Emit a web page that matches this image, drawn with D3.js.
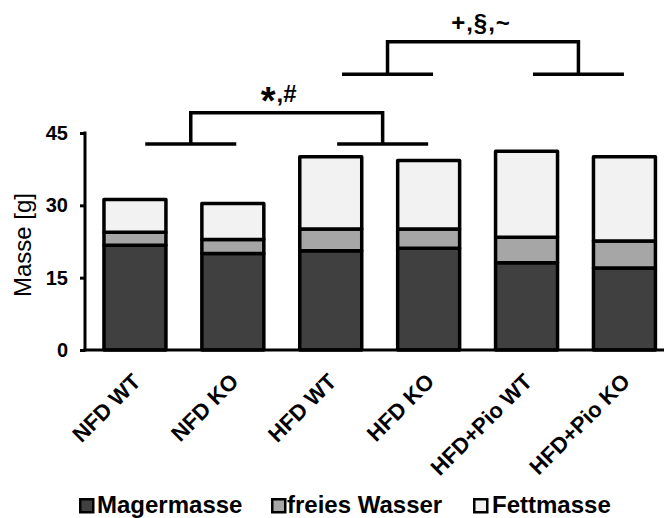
<!DOCTYPE html>
<html>
<head>
<meta charset="utf-8">
<script src="https://cdn.jsdelivr.net/npm/d3@7"></script>
<style>
  html, body { margin: 0; padding: 0; background: #fff; }
  svg { display: block; font-family: "Liberation Sans", Arial, sans-serif; }
</style>
</head>
<body>
<svg id="chart" width="664" height="518"></svg>
<script>
// Body composition per group (g)
const groups = ["NFD WT", "NFD KO", "HFD WT", "HFD KO", "HFD+Pio WT", "HFD+Pio KO"];
const magermasse = [21.7, 20.0, 20.6, 21.1, 18.1, 17.0];
const freiesWasser = [2.7, 2.9, 4.5, 4.0, 5.3, 5.6];
const fettmasse = [6.8, 7.5, 15.0, 14.2, 17.8, 17.5];
const seriesNames = ["Magermasse", "freies Wasser", "Fettmasse"];
const seriesColors = ["#404040", "#a6a6a6", "#f2f2f2"];
const yTicks = [0, 15, 30, 45];
const yLabel = "Masse [g]";

// Significance brackets: short bars centred at fractional category positions
const brackets = [
  { left: 0.57, right: 2.53, low: 42.7, high: 49.2, label: ["*", ",#"] },
  { left: 2.58, right: 4.53, low: 57.2, high: 63.9, label: ["+,§,~"] }
];

const svg = d3.select("#chart");

const x = d3.scaleBand()
  .domain(groups)
  .range([86, 86 + 6 * 97.9])
  .paddingInner(0.367)
  .paddingOuter(0.1835);

const y = d3.scaleLinear().domain([0, 45]).range([350, 133]);

const rows = groups.map((g, i) => ({
  group: g,
  Magermasse: magermasse[i],
  "freies Wasser": freiesWasser[i],
  Fettmasse: fettmasse[i]
}));
const stacked = d3.stack().keys(seriesNames)(rows);

// Bars
svg.append("g")
  .selectAll("g")
  .data(stacked)
  .join("g")
  .attr("fill", (d, i) => seriesColors[i])
  .selectAll("rect")
  .data(d => d)
  .join("rect")
  .attr("x", d => x(d.data.group))
  .attr("width", x.bandwidth())
  .attr("y", d => y(d[1]))
  .attr("height", d => y(d[0]) - y(d[1]))
  .attr("stroke", "#000")
  .attr("stroke-width", 3.5)
  .attr("stroke-linejoin", "round");

// Y axis
const yAxis = svg.append("g")
  .attr("transform", "translate(85,0)")
  .call(d3.axisLeft(y).tickValues(yTicks).tickSize(5).tickPadding(12));
yAxis.select(".domain").remove();
yAxis.selectAll(".tick line").attr("stroke", "#000").attr("stroke-width", 3);
yAxis.selectAll(".tick text")
  .attr("font-size", 20)
  .attr("font-weight", "bold")
  .attr("fill", "#000")
  .attr("font-family", "Liberation Sans, Arial, sans-serif");

svg.append("line")
  .attr("x1", 85).attr("x2", 85)
  .attr("y1", y(45) - 1.5).attr("y2", y(0) + 1.5)
  .attr("stroke", "#000").attr("stroke-width", 3);

// X axis line
svg.append("line")
  .attr("x1", 83.5).attr("x2", 664)
  .attr("y1", y(0)).attr("y2", y(0))
  .attr("stroke", "#000").attr("stroke-width", 3);

// Category labels
svg.append("g")
  .selectAll("text")
  .data(groups)
  .join("text")
  .attr("transform", d => `translate(${x(d) + x.bandwidth() / 2 + 7},${y(0) + 33}) rotate(-45)`)
  .attr("text-anchor", "end")
  .attr("font-size", 22)
  .attr("font-weight", "bold")
  .attr("fill", "#000")
  .text(d => d);

// Y axis title
svg.append("text")
  .attr("transform", "translate(31,245) rotate(-90)")
  .attr("text-anchor", "middle")
  .attr("font-size", 24)
  .attr("fill", "#000")
  .text(yLabel);

// Significance brackets
const step = x.step();
const c0 = x(groups[0]) + x.bandwidth() / 2;
const halfBar = 45.5;
brackets.forEach(b => {
  const xl = c0 + b.left * step;
  const xr = c0 + b.right * step;
  const g = svg.append("g")
    .attr("stroke", "#000").attr("stroke-width", 3.5).attr("fill", "none");
  g.append("line").attr("x1", xl - halfBar).attr("x2", xl + halfBar)
    .attr("y1", y(b.low)).attr("y2", y(b.low));
  g.append("line").attr("x1", xr - halfBar).attr("x2", xr + halfBar)
    .attr("y1", y(b.low)).attr("y2", y(b.low));
  g.append("path")
    .attr("stroke-linejoin", "miter")
    .attr("d", `M${xl},${y(b.low)}V${y(b.high)}H${xr}V${y(b.low)}`);
  const t = svg.append("text")
    .attr("x", (xl + xr) / 2 + (b.label.length > 1 ? -8 : -2))
    .attr("y", y(b.high) - 11)
    .attr("text-anchor", "middle")
    .attr("font-size", 24)
    .attr("font-weight", "bold")
    .attr("fill", "#000");
  if (b.label.length > 1) {
    t.append("tspan").attr("font-size", 38).attr("dy", 12).text(b.label[0]);
    t.append("tspan").attr("dy", -12).attr("dx", 1).text(b.label[1]);
  } else {
    t.attr("letter-spacing", 1).text(b.label[0]);
  }
});

// Legend
const legendX = [79, 271, 473];
const legend = svg.append("g")
  .selectAll("g")
  .data(seriesNames)
  .join("g")
  .attr("transform", (d, i) => `translate(${legendX[i]},498)`);
legend.append("rect")
  .attr("x", 1.25).attr("y", 1.25)
  .attr("width", 13).attr("height", 13)
  .attr("fill", (d, i) => seriesColors[i])
  .attr("stroke", "#000").attr("stroke-width", 2.5);
legend.append("text")
  .attr("x", (d, i) => [18, 16, 19][i])
  .attr("y", 15)
  .attr("font-size", 24)
  .attr("font-weight", "bold")
  .attr("fill", "#000")
  .text(d => d);
</script>
</body>
</html>
